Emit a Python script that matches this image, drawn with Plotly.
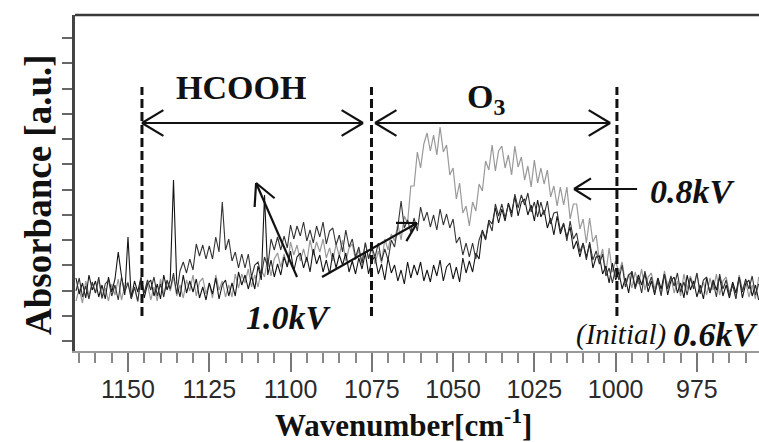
import plotly.graph_objects as go

# ---------------- data ----------------
# wavenumber grid, cm-1 (descending, 1 cm-1 step)
wavenumber = list(range(1166, 955, -1))

# absorbance, arbitrary units (height above the bottom of the frame)
abs_initial_06kV = [
    73, 57, 68, 53, 76, 61, 70, 54, 66, 52,
    74, 59, 72, 99, 75, 56, 114, 53, 70, 59,
    74, 53, 67, 71, 55, 67, 52, 76, 61, 71,
    171, 68, 54, 76, 58, 70, 59, 72, 53, 64,
    51, 68, 57, 73, 52, 66, 71, 55, 68, 55,
    79, 66, 76, 62, 75, 62, 85, 71, 156, 76,
    91, 74, 87, 76, 94, 84, 100, 80, 94, 98,
    83, 94, 79, 102, 87, 96, 79, 91, 77, 98,
    83, 96, 86, 98, 79, 90, 77, 93, 82, 98,
    77, 91, 94, 77, 87, 71, 93, 78, 86, 70,
    81, 67, 89, 73, 86, 76, 89, 70, 81, 69,
    86, 75, 91, 70, 84, 88, 72, 84, 69, 93,
    78, 90, 79, 98, 92, 121, 112, 131, 127, 143,
    128, 142, 130, 148, 138, 155, 135, 149, 152, 136,
    146, 130, 151, 134, 141, 123, 133, 116, 135, 117,
    127, 114, 124, 102, 110, 94, 108, 94, 107, 83,
    94, 95, 77, 85, 68, 88, 71, 79, 62, 73,
    58, 80, 64, 76, 66, 78, 59, 70, 56, 73,
    62, 77, 56, 70, 74, 58, 68, 53, 76, 61,
    70, 54, 66, 52, 73, 58, 71, 61, 74, 55,
    66, 53, 69, 58, 74, 53, 67, 71, 55, 66,
    51,
]

abs_08kV = [
    50, 62, 48, 70, 55, 68, 58, 71, 52, 63,
    50, 67, 56, 72, 51, 65, 69, 53, 64, 49,
    73, 58, 67, 51, 64, 50, 72, 57, 70, 60,
    74, 55, 66, 53, 71, 60, 76, 55, 69, 73,
    57, 68, 53, 76, 61, 70, 54, 66, 54, 77,
    63, 77, 68, 82, 64, 76, 64, 81, 74, 93,
    75, 92, 98, 84, 97, 84, 109, 96, 106, 90,
    102, 89, 111, 96, 109, 99, 112, 93, 103, 90,
    107, 95, 111, 90, 103, 107, 91, 101, 86, 109,
    93, 102, 87, 100, 88, 112, 101, 117, 110, 127,
    111, 135, 128, 165, 165, 199, 183, 207, 218, 200,
    216, 196, 224, 199, 206, 176, 183, 152, 168, 138,
    145, 125, 149, 140, 167, 160, 190, 181, 206, 180,
    200, 205, 183, 196, 176, 205, 184, 194, 171, 185,
    164, 191, 168, 183, 167, 181, 154, 165, 145, 164,
    146, 164, 132, 147, 147, 122, 132, 108, 133, 109,
    116, 90, 102, 78, 103, 79, 90, 78, 89, 68,
    77, 63, 79, 67, 82, 61, 74, 78, 62, 73,
    57, 80, 65, 74, 58, 70, 55, 77, 62, 75,
    65, 78, 58, 69, 56, 73, 61, 77, 56, 70,
    74, 58, 68, 53, 76, 61, 70, 54, 66, 52,
    74,
]

abs_10kV = [
    60, 73, 54, 65, 52, 69, 58, 74, 53, 67,
    71, 55, 66, 51, 74, 59, 68, 52, 64, 50,
    73, 58, 71, 61, 74, 55, 67, 54, 71, 62,
    78, 57, 80, 89, 78, 92, 81, 107, 95, 106,
    92, 105, 92, 114, 99, 149, 101, 112, 90, 99,
    83, 97, 83, 97, 74, 86, 89, 75, 94, 84,
    112, 101, 114, 101, 115, 103, 126, 112, 125, 115,
    129, 110, 121, 108, 125, 114, 129, 107, 120, 123,
    106, 116, 99, 121, 104, 112, 94, 104, 88, 108,
    92, 104, 94, 108, 90, 102, 91, 111, 104, 124,
    150, 123, 131, 119, 133, 120, 144, 130, 139, 124,
    136, 121, 142, 126, 137, 123, 132, 108, 114, 96,
    108, 94, 108, 92, 111, 120, 111, 129, 120, 147,
    135, 147, 133, 147, 134, 157, 143, 156, 146, 158,
    139, 149, 134, 149, 136, 150, 127, 138, 139, 120,
    128, 110, 130, 112, 118, 99, 108, 91, 109, 91,
    100, 87, 97, 75, 83, 68, 83, 71, 86, 64,
    76, 79, 62, 73, 58, 80, 65, 74, 58, 70,
    55, 77, 62, 75, 65, 78, 59, 69, 56, 73,
    62, 78, 57, 71, 74, 58, 69, 54, 77, 62,
    71, 55, 66, 52, 74, 59, 72, 62, 75, 56,
    67,
]

x_ticks = [1150, 1125, 1100, 1075, 1050, 1025, 1000, 975]

# ---------------- geometry of the frame ----------------
W, H = 759, 442
M_L, M_R, M_T, M_B = 75, 0, 15, 91
X_RANGE = [1166.3, 955.9]
Y_RANGE = [0, 336]
PW = W - M_L - M_R
PH = H - M_T - M_B
SX = PW / (X_RANGE[0] - X_RANGE[1])
SY = PH / (Y_RANGE[1] - Y_RANGE[0])

SERIF = "Liberation Serif, Times New Roman, serif"
SANS = "Liberation Sans, Arial, sans-serif"

fig = go.Figure()

fig.add_trace(go.Scatter(x=wavenumber, y=abs_08kV, mode="lines",
                         line=dict(color="#999999", width=1.2), name="0.8kV",
                         hoverinfo="skip", showlegend=False))
fig.add_trace(go.Scatter(x=wavenumber, y=abs_initial_06kV, mode="lines",
                         line=dict(color="#151515", width=1.1), name="(Initial) 0.6kV",
                         hoverinfo="skip", showlegend=False))
fig.add_trace(go.Scatter(x=wavenumber, y=abs_10kV, mode="lines",
                         line=dict(color="#333333", width=1.1), name="1.0kV",
                         hoverinfo="skip", showlegend=False))


# ---------------- helpers for the drawn arrows ----------------
def to_px(wn, h):
    return ((X_RANGE[0] - wn) * SX, -(h - Y_RANGE[0]) * SY)


def to_data(px, py):
    return (X_RANGE[0] - px / SX, Y_RANGE[0] - py / SY)


def chevron(tail, tip, length=20, ang_deg=32):
    import math
    tx, ty = to_px(*tail)
    hx, hy = to_px(*tip)
    bx, by = tx - hx, ty - hy
    n = math.hypot(bx, by)
    bx, by = bx / n, by / n
    xs, ys = [], []
    for s in (1, -1):
        a = math.radians(ang_deg * s)
        rx = bx * math.cos(a) - by * math.sin(a)
        ry = bx * math.sin(a) + by * math.cos(a)
        ex, ey = to_data(hx + rx * length, hy + ry * length)
        xs += [ex, tip[0], None]
        ys += [ey, tip[1], None]
    return xs, ys


def add_arrow(tail, tip, double=False, width=2.2, length=20, ang=32):
    xs = [tail[0], tip[0], None]
    ys = [tail[1], tip[1], None]
    cx, cy = chevron(tail, tip, length, ang)
    xs += cx
    ys += cy
    if double:
        cx, cy = chevron(tip, tail, length, ang)
        xs += cx
        ys += cy
    fig.add_trace(go.Scatter(x=xs, y=ys, mode="lines",
                             line=dict(color="#111111", width=width),
                             hoverinfo="skip", showlegend=False))


# vertical dashed region limits
region_limits = [1145.7, 1075.1, 999.6]
for wn in region_limits:
    fig.add_trace(go.Scatter(x=[wn, wn], y=[35, 264], mode="lines",
                             line=dict(color="#111111", width=3, dash="9px,4px"),
                             hoverinfo="skip", showlegend=False))

# double arrows for the regions
add_arrow((1077.7, 228), (1145.7, 228), double=True, width=2.2, length=25, ang=31)
add_arrow((1001.7, 228), (1074.0, 228), double=True, width=2.2, length=25, ang=31)

# 0.8kV arrow
add_arrow((993.4, 162), (1012.8, 162), width=2.2, length=20, ang=32)
# 1.0kV arrows
add_arrow((1098.0, 74), (1110.6, 168), width=2.2, length=24, ang=27)
add_arrow((1090.3, 74), (1061.1, 128), width=2.2, length=21, ang=30)

# ---------------- text ----------------
texts = [
    ("<b>HCOOH</b>", 1115.2, 264, 34, SERIF),
    ("<b>O<sub>3</sub></b>", 1040.0, 252, 34, SERIF),
    ("<b><i>0.8kV</i></b>", 976.5, 160, 34, SERIF),
    ("<b><i>1.0kV</i></b>", 1100.5, 34, 34, SERIF),
    ("<i>(Initial)</i>", 998.4, 17, 29, SERIF),
    ("<b><i>0.6kV</i></b>", 969.4, 17, 34, SERIF),
]
for t, x, y, s, f in texts:
    fig.add_annotation(x=x, y=y, xref="x", yref="y", text=t, showarrow=False,
                       xanchor="center", yanchor="middle",
                       font=dict(family=f, size=s, color="#111111"))

fig.add_annotation(x=(38 - M_L) / PW, y=(351 - 195) / PH, xref="paper", yref="paper",
                   text="<b>Absorbance [a.u.]</b>", textangle=-90, showarrow=False,
                   xanchor="center", yanchor="middle",
                   font=dict(family=SERIF, size=37, color="#111111"))
fig.add_annotation(x=(403 - M_L) / PW, y=(351 - 424) / PH, xref="paper", yref="paper",
                   text="<b>Wavenumber[cm<sup>-1</sup>]</b>", showarrow=False,
                   xanchor="center", yanchor="middle",
                   font=dict(family=SERIF, size=31, color="#111111"))

# top frame line
fig.add_shape(type="line", xref="paper", yref="paper", x0=0, x1=1, y0=1, y1=1,
              line=dict(color="#3a3a3a", width=2.5))

fig.update_layout(
    width=W, height=H,
    margin=dict(l=M_L, r=M_R, t=M_T, b=M_B, pad=0),
    paper_bgcolor="white", plot_bgcolor="white",
    showlegend=False,
    xaxis=dict(range=X_RANGE, tickmode="array", tickvals=x_ticks,
               ticktext=[str(v) for v in x_ticks],
               ticks="outside", ticklen=19, tickwidth=1.5, tickcolor="#777777",
               ticklabelstandoff=-4,
               minor=dict(dtick=5, tick0=1150, ticks="outside", ticklen=10,
                          tickwidth=1.5, tickcolor="#888888", showgrid=False),
               showline=True, linecolor="#9a9a9a", linewidth=1.5,
               showgrid=False, zeroline=False,
               tickfont=dict(family=SANS, size=25, color="#2a2a2a")),
    yaxis=dict(range=Y_RANGE, tickmode="linear", tick0=10, dtick=25.25,
               ticks="outside", ticklen=10, tickwidth=1.5, tickcolor="#666666",
               showticklabels=False, showline=True, linecolor="#444444", linewidth=2.5,
               showgrid=False, zeroline=False),
)

fig.write_html("out.html")
